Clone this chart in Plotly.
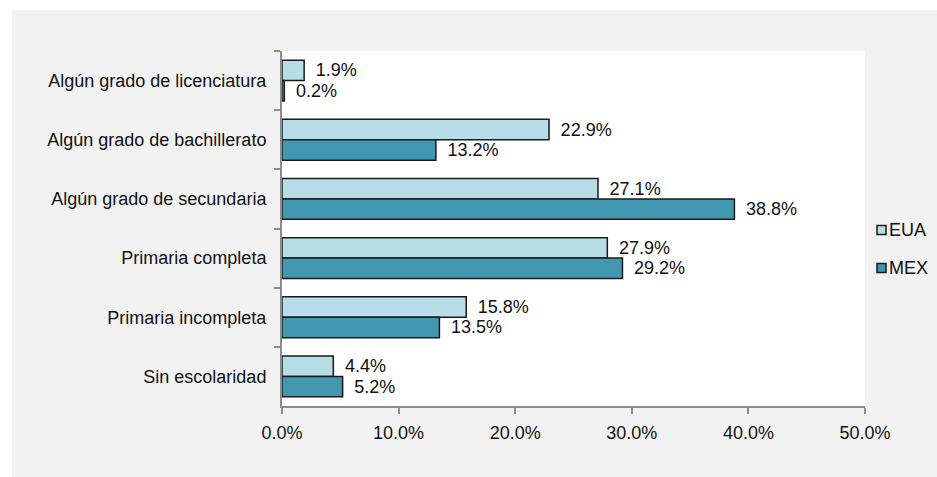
import plotly.graph_objects as go

categories = ["Algún grado de licenciatura", "Algún grado de bachillerato",
              "Algún grado de secundaria", "Primaria completa",
              "Primaria incompleta", "Sin escolaridad"]
eua = [1.9, 22.9, 27.1, 27.9, 15.8, 4.4]
mex = [0.2, 13.2, 38.8, 29.2, 13.5, 5.2]
x_ticks = [0, 10, 20, 30, 40, 50]
series_names = ["EUA", "MEX"]
series_colors = ["#b7dee8", "#4298b0"]

FONT = "Liberation Sans, Arial, sans-serif"
fs = 18
TXT = "#111111"

# plot area in pixels
L, R, T, B = 282, 865, 51, 406
W, H = R - L, B - T

def px_x(x):
    return (x - L) / W

def px_y(y):
    return (B - y) / H

def labels(vals):
    return ["\u00a0\u2009%.1f%%" % v for v in vals]

fig = go.Figure()
for name, vals, col in zip(series_names, [eua, mex], series_colors):
    fig.add_trace(go.Bar(
        y=categories, x=vals, orientation="h", name=name,
        marker=dict(color=col, line=dict(color="#1a1a1a", width=1.5)),
        text=labels(vals), textposition="outside", constraintext="none",
        textfont=dict(family=FONT, size=fs, color=TXT),
        cliponaxis=False, showlegend=False,
    ))

shapes = [
    dict(type="rect", xref="paper", yref="paper", x0=-0.6, x1=1.3,
         y0=px_y(10), y1=1.3, fillcolor="#ffffff", line=dict(width=0), layer="below"),
    dict(type="rect", xref="paper", yref="paper", x0=-0.6, x1=px_x(12),
         y0=-0.4, y1=1.3, fillcolor="#ffffff", line=dict(width=0), layer="below"),
]
annotations = []
# custom legend (marker squares + real text)
for i, (name, col) in enumerate(zip(series_names, series_colors)):
    cy = 230 + 38 * i
    shapes.append(dict(type="rect", xref="paper", yref="paper",
                       x0=px_x(877), x1=px_x(886), y0=px_y(cy + 4.5), y1=px_y(cy - 4.5),
                       fillcolor=col, line=dict(color="#1a1a1a", width=1.5)))
    annotations.append(dict(text=name, xref="paper", yref="paper",
                            x=px_x(887), y=px_y(cy), xanchor="left", yanchor="middle",
                            showarrow=False, font=dict(family=FONT, size=fs, color=TXT)))

fig.update_layout(
    width=937, height=477,
    margin=dict(l=L, r=937 - R, t=T, b=477 - B, autoexpand=False),
    paper_bgcolor="#f2f2f2", plot_bgcolor="#ffffff",
    barmode="group", bargap=0.31, bargroupgap=0,
    font=dict(family=FONT, size=fs, color=TXT),
    showlegend=False,
    xaxis=dict(range=[0, 50], tickvals=x_ticks, ticktext=["%.1f%%" % v for v in x_ticks],
               showgrid=False, zeroline=False, showline=True, linecolor="#8c8c8c", linewidth=2,
               ticks="outside", ticklen=6, tickwidth=2, tickcolor="#8c8c8c",
               ticklabelstandoff=3, tickfont=dict(family=FONT, size=fs, color=TXT),
               fixedrange=True),
    yaxis=dict(categoryorder="array", categoryarray=categories, autorange="reversed",
               showgrid=False, zeroline=False, showline=True, linecolor="#8c8c8c", linewidth=2,
               ticks="outside", tickson="boundaries", ticklen=6, tickwidth=2, tickcolor="#8c8c8c",
               ticklabelstandoff=10, tickfont=dict(family=FONT, size=fs, color=TXT),
               fixedrange=True),
    shapes=shapes,
    annotations=annotations,
)

fig.write_html("out.html", config={"displayModeBar": False},
               post_script="document.body.style.margin='0';document.body.style.overflow='hidden';")
